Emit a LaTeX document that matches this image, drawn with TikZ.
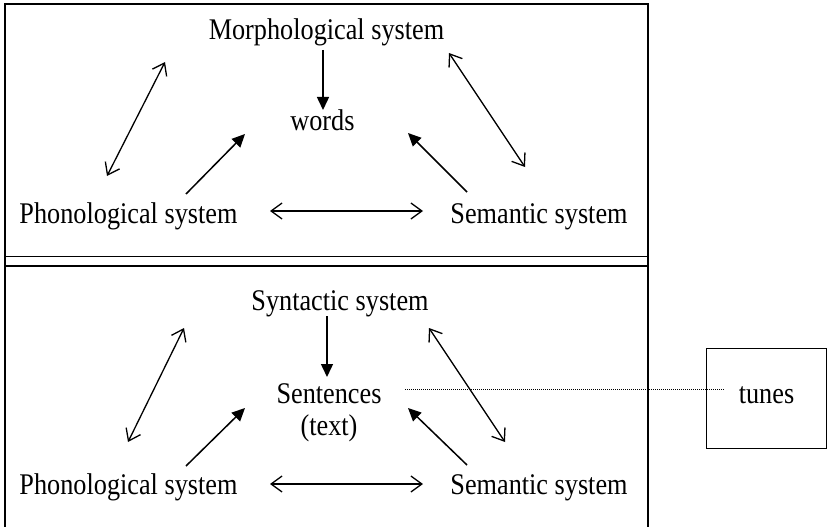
\documentclass[tikz,border=0pt]{standalone}
\usepackage{fontspec}
\setmainfont{Liberation Serif}[FakeStretch=0.875]
\usetikzlibrary{arrows.meta}
\begin{document}
\begin{tikzpicture}[x=1pt,y=-1pt,
  lbl/.style={anchor=base, inner sep=0pt, font=\fontsize{30}{32}\selectfont},
  frame/.style={line width=1.6pt},
  dbl/.style={line width=1.3pt, {Straight Barb[length=11pt,width=16pt]}-{Straight Barb[length=11pt,width=16pt]}},
  sgl/.style={line width=1.5pt, -{Triangle[length=13pt,width=12pt]}},
  dotline/.style={line width=1pt, dash pattern=on 1pt off 1pt}]
\useasboundingbox (0,0) rectangle (828,527);
% frame
\draw[frame] (5,530) -- (5,4) -- (648,4) -- (648,530);
\draw[line width=1pt] (5,256) -- (648,256);
\draw[frame] (5,266) -- (648,266);
% top labels
\node[lbl] (morph) at (326.5,40) {Morphological system};
\node[lbl] (words) at (322.5,130) {words};
\node[lbl] (phon1) at (128.5,223) {Phonological system};
\node[lbl] (sem1) at (539,223) {Semantic system};
% bottom labels
\node[lbl] (synt) at (340,310) {Syntactic system};
\node[lbl, align=center] (sent) at (329,435) {Sentences\\(text)};
\node[lbl] (phon2) at (128.5,494) {Phonological system};
\node[lbl] (sem2) at (539,494) {Semantic system};
\node[draw, line width=1.4pt, minimum width=120pt, minimum height=100pt, inner sep=0pt] (tbox) at (766.7,398.3) {};
\node[lbl] (tunes) at (766.5,403) {tunes};
% coordinates (top)
\coordinate (t1a) at (323,50);  \coordinate (t1b) at (323,110);
\coordinate (t2a) at (186,194); \coordinate (t2b) at (245,134);
\coordinate (t3a) at (467,192); \coordinate (t3b) at (408,133);
\coordinate (t4a) at (107,176); \coordinate (t4b) at (165,62);
\coordinate (t5a) at (449,53);  \coordinate (t5b) at (525,167);
\coordinate (t6a) at (270,211); \coordinate (t6b) at (423,211);
% coordinates (bottom)
\coordinate (b1a) at (327,316); \coordinate (b1b) at (327,377);
\coordinate (b2a) at (186,466); \coordinate (b2b) at (245,408);
\coordinate (b3a) at (467,465); \coordinate (b3b) at (408,408);
\coordinate (b4a) at (128,442); \coordinate (b4b) at (184,328);
\coordinate (b5a) at (429,328); \coordinate (b5b) at (505,442);
\coordinate (b6a) at (270,484); \coordinate (b6b) at (423,484);
\coordinate (dA) at (405,389);  \coordinate (dB) at (725,389);
% arrows top
\draw[sgl] (t1a) -- (t1b);
\draw[sgl] (t2a) -- (t2b);
\draw[sgl] (t3a) -- (t3b);
\draw[dbl] (t4a) -- (t4b);
\draw[dbl] (t5a) -- (t5b);
\draw[dbl] (t6a) -- (t6b);
% arrows bottom
\draw[sgl] (b1a) -- (b1b);
\draw[sgl] (b2a) -- (b2b);
\draw[sgl] (b3a) -- (b3b);
\draw[dbl] (b4a) -- (b4b);
\draw[dbl] (b5a) -- (b5b);
\draw[dbl] (b6a) -- (b6b);
\draw[dotline] (dA) -- (dB);
\end{tikzpicture}
\end{document}
